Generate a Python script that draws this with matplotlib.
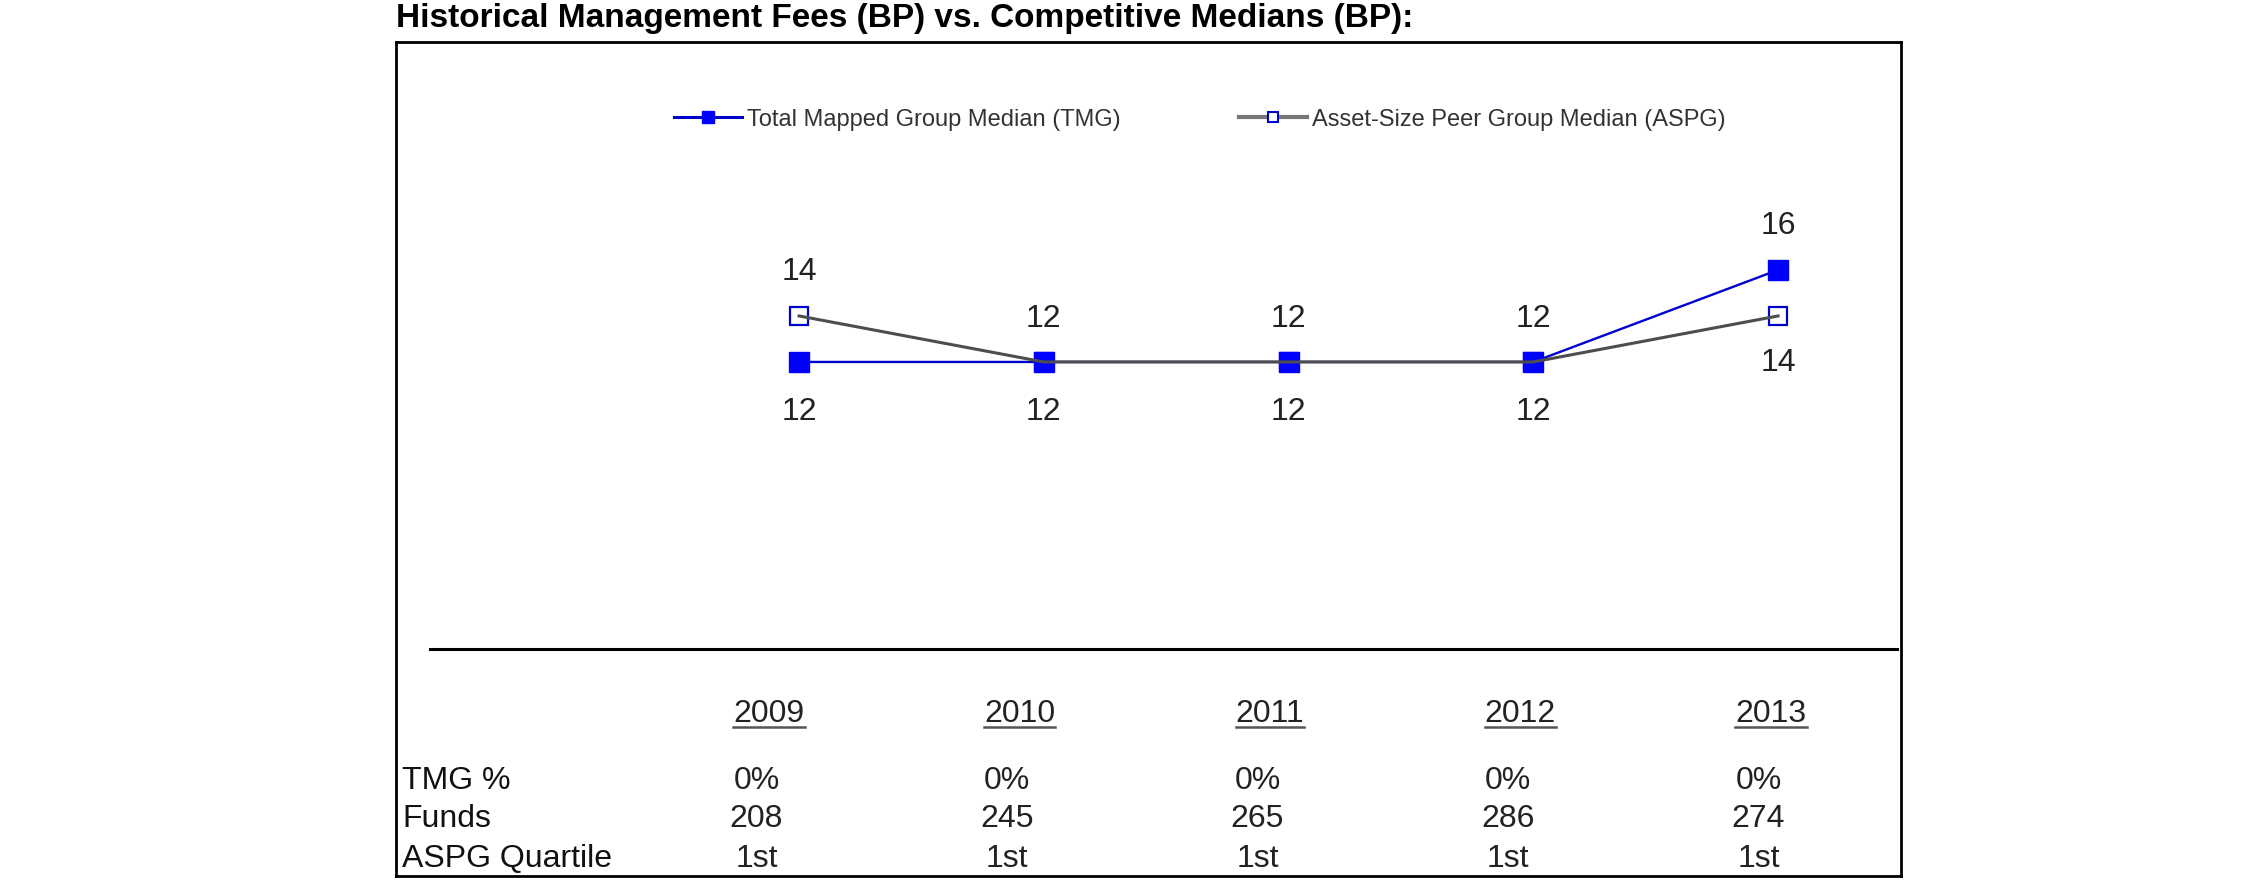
import matplotlib
matplotlib.use("Agg")
import matplotlib.pyplot as plt
from matplotlib.lines import Line2D
from matplotlib.transforms import blended_transform_factory

plt.rcParams['font.family'] = ['Liberation Sans', 'DejaVu Sans']

# datos
years = [2009, 2010, 2011, 2012, 2013]
tmg = [12, 12, 12, 12, 16]      # Total Mapped Group Median
aspg = [14, 12, 12, 12, 14]     # Asset-Size Peer Group Median
tmg_pct = ["0%", "0%", "0%", "0%", "0%"]
funds = ["208", "245", "265", "286", "274"]
quartile = ["1st", "1st", "1st", "1st", "1st"]
row_labels = ["TMG %", "Funds", "ASPG Quartile"]

title = "Historical Management Fees (BP) vs. Competitive Medians (BP):"
lbl_tmg = "Total Mapped Group Median (TMG)"
lbl_aspg = "Asset-Size Peer Group Median (ASPG)"

W, H = 2250, 895


def rect(x0, y0, x1, y1):
    """ caja en pixeles (origen arriba a la izquierda) -> fracciones de figura """
    return [x0 / W, 1 - y1 / H, (x1 - x0) / W, (y1 - y0) / H]


fig = plt.figure(figsize=(W / 100, H / 100), dpi=100)

# marco exterior
frame = fig.add_axes(rect(396, 43, 1901, 877))
frame.set_xticks([])
frame.set_yticks([])
frame.patch.set_visible(False)
for s in frame.spines.values():
    s.set_linewidth(2.0)

fig.text(396 / W, 1 - 18 / H, title, fontsize=24, fontweight="bold",
         ha="left", va="center", color="black")

# grafico de lineas
ax = fig.add_axes(rect(430, 43, 1897, 650))
ax.patch.set_visible(False)
ax.set_xlim(2007.492, 2013.486)
ax.set_ylim(-0.48, 25.91)
ax.set_xticks([])
ax.set_yticks([])
for side in ["top", "left", "right"]:
    ax.spines[side].set_visible(False)
ax.spines["bottom"].set_linewidth(2.2)

blue = "#0000FF"
blue_line = "#0000CC"
grey = "#4D4D4D"

ax.plot(years, aspg, ls="none", marker="s", ms=12.5, mfc="white",
        mec=blue_line, mew=1.6, zorder=2)
ax.plot(years, tmg, color=blue_line, lw=1.7, zorder=3)
ax.plot(years, tmg, ls="none", marker="s", ms=14.5, mfc=blue, mec=blue,
        zorder=4)
ax.plot(years, aspg, color=grey, lw=2.2, zorder=5)

for x, t, a in zip(years, tmg, aspg):
    t_up = t > a
    ax.annotate(str(t), (x, t), xytext=(0, 32 if t_up else -35),
                textcoords="offset points", ha="center", va="center",
                fontsize=23, color="#222222")
    ax.annotate(str(a), (x, a), xytext=(0, -33 if t_up else 32),
                textcoords="offset points", ha="center", va="center",
                fontsize=23, color="#222222")

handles = [
    Line2D([], [], color=blue_line, lw=2.2, marker="s", ms=8, mfc=blue, mec=blue),
    Line2D([], [], color="#777777", lw=3, marker="s", ms=7, mfc="white",
           mec=blue_line, mew=1.5),
]
fig.legend(handles, [lbl_tmg, lbl_aspg], loc="center left",
           bbox_to_anchor=(674 / W, 1 - 120 / H), ncol=2, frameon=False,
           fontsize=17, handlelength=2.9, handletextpad=0.2,
           columnspacing=5.0, borderpad=0, borderaxespad=0,
           labelcolor="#333333")

# tabla inferior
tab = fig.add_axes(rect(396, 650, 1901, 877))
tab.patch.set_visible(False)
tab.axis("off")
tab.set_xlim(-1.489, 4.519)
tab.set_ylim(0, 1)
trans_rows = blended_transform_factory(tab.transAxes, tab.transAxes)

fig.canvas.draw()
renderer = fig.canvas.get_renderer()
year_base = (877 - 722) / 227
for i, yr in enumerate(years):
    t = tab.text(i, year_base, str(yr), fontsize=23, ha="center",
                 va="baseline", color="#222222")
    bb = t.get_window_extent(renderer)
    # subrayado
    base_y = tab.transAxes.transform((0, year_base))[1] - 6
    fig.add_artist(Line2D([bb.x0, bb.x1], [base_y, base_y],
                          transform=None, color="#555555", lw=1.8))

rows_y = [(877 - 781) / 227, (877 - 819) / 227, (877 - 859) / 227]
for lab, yy in zip(row_labels, rows_y):
    tab.text(0.004, yy, lab, transform=trans_rows, fontsize=23,
             ha="left", va="center", color="#111111")

for i in range(len(years)):
    for vals, yy in zip([tmg_pct, funds, quartile], rows_y):
        tab.annotate(vals[i], (i, yy), xytext=(-9, 0),
                     textcoords="offset points", ha="center", va="center",
                     fontsize=23, color="#222222")

fig.savefig("out.png", dpi=100)
